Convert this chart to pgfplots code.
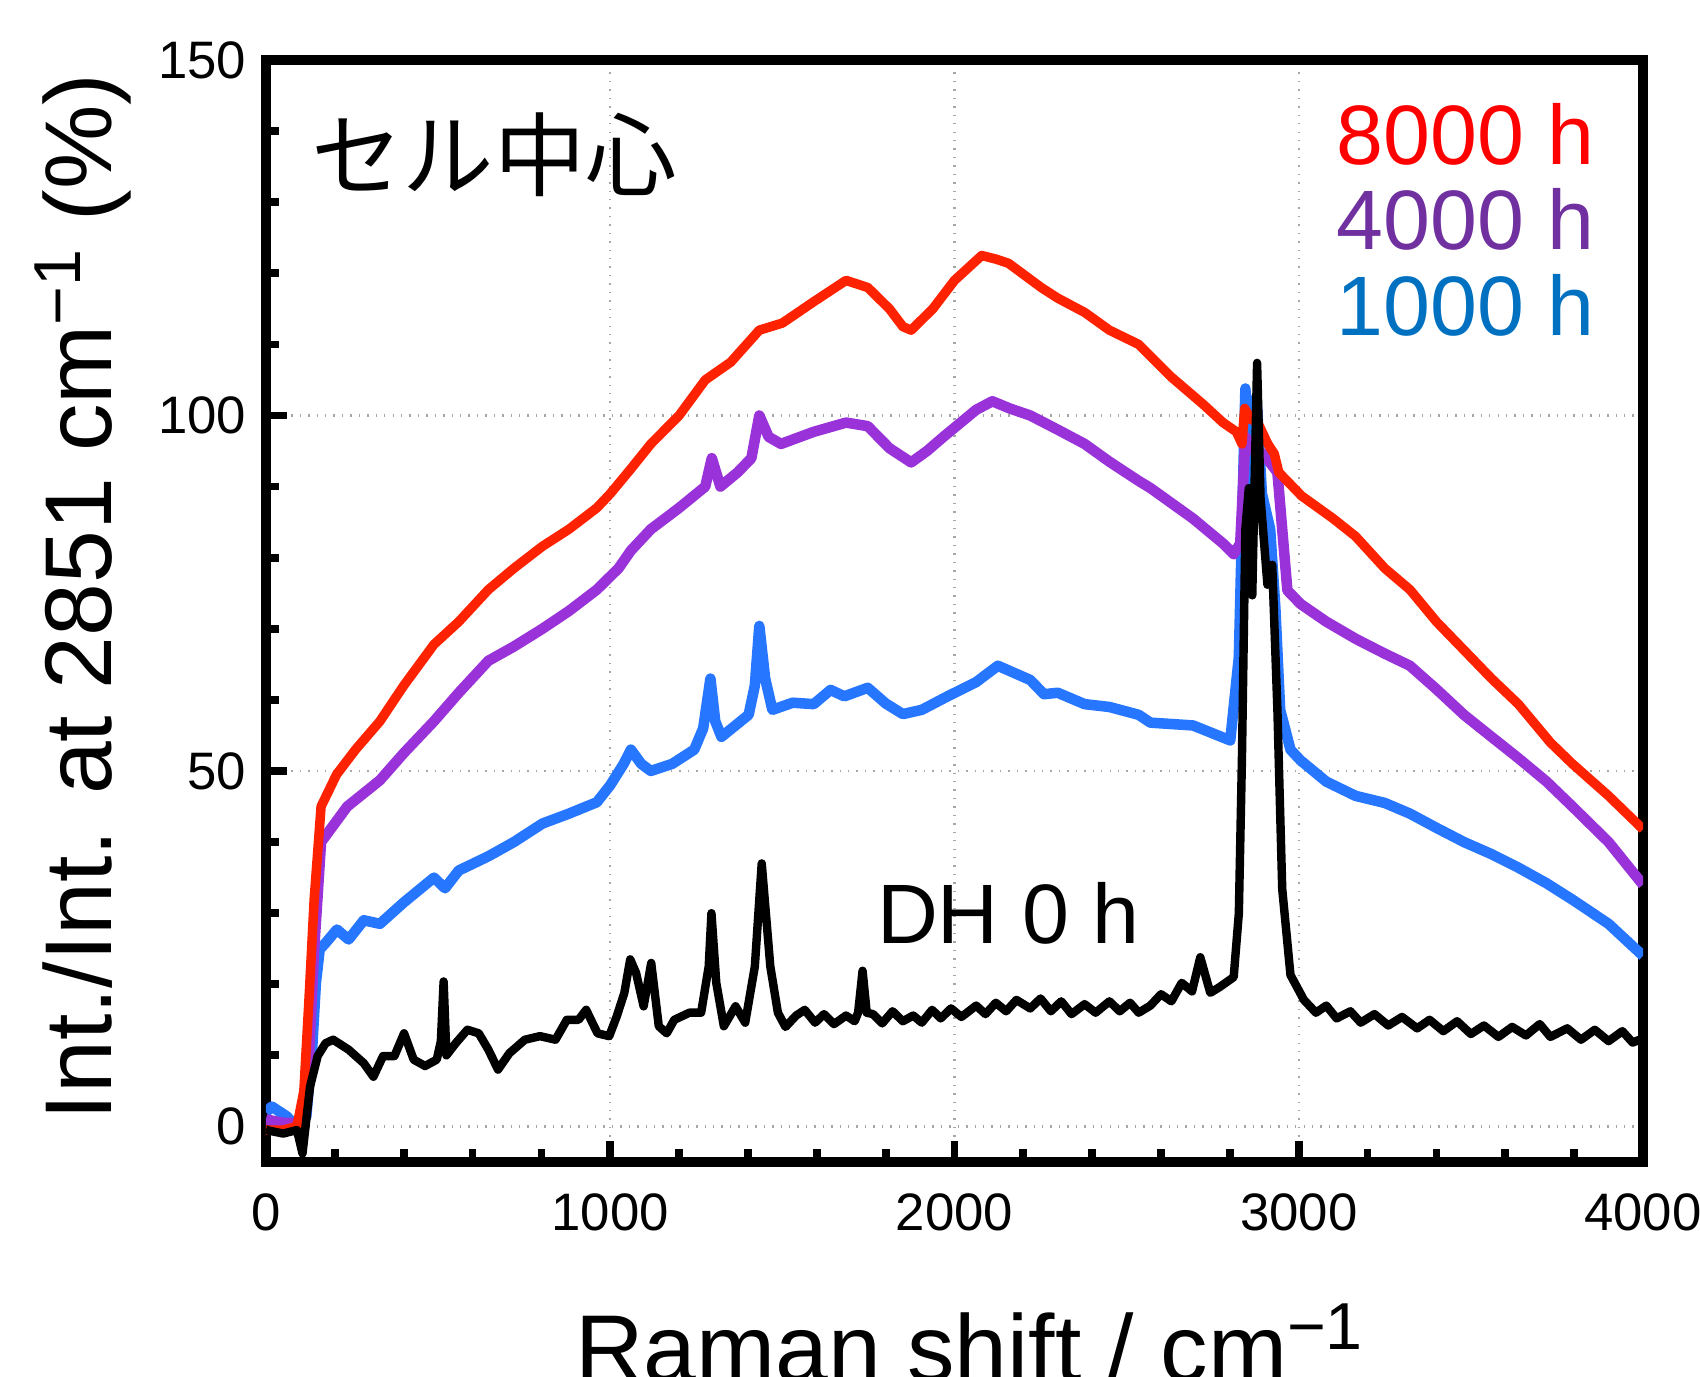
\documentclass[border=0pt]{standalone}
\usepackage{fontspec}
\setmainfont{Liberation Sans}
\newfontfamily\jp{Noto Sans CJK JP}
\usepackage{pgfplots}
\pgfplotsset{compat=1.18}
\usetikzlibrary{calc}

\definecolor{lred}{HTML}{FF2200}
\definecolor{lpurple}{HTML}{9933D9}
\definecolor{lblue}{HTML}{2676FF}
\definecolor{tred}{HTML}{FF0000}
\definecolor{tpurple}{HTML}{7030A0}
\definecolor{tblue}{HTML}{0070C0}

\begin{document}
\begin{tikzpicture}
\begin{axis}[
  width=13.77cm, height=11.02cm, scale only axis,
  xmin=0, xmax=4000, ymin=-5, ymax=150,
  xtick={0,1000,2000,3000,4000}, ytick={0,50,100,150},
  minor x tick num=4, minor y tick num=4,
  scaled x ticks=false,
  /pgf/number format/1000 sep={},
  /pgf/number format/assume math mode=true,
  tick align=inside, xtick pos=left, ytick pos=left,
  major tick length=2.1mm, minor tick length=1.3mm,
  every tick/.style={black, line width=2.2pt},
  axis line style={line width=2.8pt},
  grid=major,
  major grid style={dotted, gray!70, line width=0.6pt},
  ticklabel style={font=\fontsize{15}{15}\selectfont},
  yticklabel style={inner sep=0pt, xshift=-1.9mm},
  xticklabel style={inner sep=0pt, yshift=-3.1mm},
  clip=true,
  every axis plot/.append style={line join=round},
]
\coordinate (SW) at (rel axis cs:0,0);
\coordinate (NE) at (rel axis cs:1,1);

% 1000 h
\addplot[lblue, line width=3pt] coordinates {
(0,2) (17,2.8) (61,1.4) (95,-0.5) (117,1.4) (134,10.8) (145,20.2) (156,24.9)
(173,25.8) (206,27.7) (240,26.3) (284,29) (331,28.5) (400,31.5) (488,35)
(520,33.5) (560,36) (646,38) (720,40) (803,42.6) (880,44) (961,45.6) (1000,48) (1039,51)
(1060,53) (1090,51) (1118,50) (1180,51) (1244,53) (1270,56) (1291,63)
(1305,57) (1323,54.8) (1402,57.9) (1420,62) (1433,70.4) (1450,63) (1471,58.6)
(1530,59.6) (1591,59.4) (1640,61.4) (1680,60.5) (1748,61.7) (1800,59.5)
(1850,58) (1905,58.6) (1980,60.5)
(2063,62.5) (2126,64.8) (2220,62.8) (2260,60.8) (2300,61) (2378,59.4) (2450,59)
(2535,57.9) (2569,56.8) (2693,56.4) (2801,54.3) (2826,66) (2845,103.8)
(2860,87.7) (2877,102.7) (2893,89) (2917,84) (2932,73) (2946,58.6)
(2976,53) (3005,51.5) (3080,48.5) (3165,46.5) (3250,45.5) (3323,44)
(3400,42) (3480,40) (3560,38.3) (3638,36.4) (3720,34.2) (3795,31.9)
(3900,28.5) (4000,24)
};

% 4000 h
\addplot[lpurple, line width=3pt] coordinates {
(0,1) (50,0.5) (100,0.5) (120,5) (140,25) (160,40) (236,45) (331,48.7)
(400,52.5) (488,57) (560,61) (646,65.5) (720,67.5) (803,70) (880,72.5)
(961,75.5) (1024,78.5) (1060,81) (1118,84) (1200,87) (1276,90) (1295,94)
(1320,90) (1370,92) (1410,94) (1433,100) (1460,97) (1496,96) (1591,97.7)
(1685,99) (1748,98.5) (1811,95.4) (1874,93.4) (1920,95) (1968,97)
(2063,100.8) (2110,102) (2160,101) (2220,100) (2300,98) (2378,96)
(2450,93.5) (2535,90.8) (2569,89.8) (2693,85.5) (2780,82) (2811,80.5)
(2830,82) (2845,97) (2870,95) (2897,94.6) (2938,92) (2967,75.4)
(3005,73.5) (3080,71) (3165,68.6) (3250,66.5) (3323,64.8) (3400,61.5)
(3480,57.9) (3560,54.8) (3638,51.8) (3720,48.5) (3795,45) (3900,40)
(4000,34)
};

% 8000 h
\addplot[lred, line width=2.7pt] coordinates {
(0,-0.5) (50,-0.5) (90,0) (110,5) (125,18) (140,32) (160,45) (205,49.5)
(260,53) (331,57) (400,62) (488,67.8) (560,71) (646,75.5) (720,78.5)
(803,81.6) (880,84) (961,87) (1000,89) (1060,92.5) (1118,96) (1200,100)
(1276,105) (1350,107.5) (1433,112) (1500,113) (1591,116) (1685,119)
(1748,118) (1811,115) (1850,112.5) (1874,112) (1937,115) (2000,119)
(2079,122.5) (2120,122) (2157,121.4) (2252,118) (2300,116.5) (2378,114.5)
(2450,112) (2535,110) (2630,105.4) (2724,101.5) (2780,99) (2819,97.7)
(2835,96) (2843,101) (2860,99.5) (2881,99) (2910,96) (2929,94.6)
(2942,92) (3008,88.7) (3100,85.5) (3165,83) (3250,78.5) (3323,75.5)
(3400,71) (3480,67) (3560,63) (3638,59.4) (3731,54) (3795,51)
(3900,46.5) (4000,41.8)
};

% DH 0 h
\addplot[black, line width=2.4pt] coordinates {
(0,-0.5) (50,-1) (90,-0.5) (106,-3.8) (128,5.6) (150,9.9) (173,11.7)
(195,12.2) (240,10.8) (284,8.9) (312,7) (340,9.9) (373,9.9) (401,13.1)
(429,9.4) (462,8.5) (496,9.4) (508,12) (516,20.4) (524,10) (551,11.7)
(585,13.6) (618,13.1) (646,10.8) (674,8) (707,10.3) (752,12.2) (796,12.7)
(841,12.2) (874,15) (908,15) (930,16.4) (963,13.1) (997,12.7) (1019,15.5)
(1041,18.8) (1058,23.5) (1075,21.6) (1097,16.9) (1119,23) (1141,14.1)
(1164,13.1) (1186,15) (1230,16) (1264,16) (1286,22.5) (1294,30) (1308,20.2)
(1330,14.1) (1364,16.9) (1392,14.6) (1420,22.5) (1440,37) (1465,22.5)
(1487,16) (1509,14) (1540,15.6) (1565,16.4) (1595,14.6) (1621,15.8)
(1650,14.4) (1685,15.6) (1710,14.8) (1720,16) (1733,21.9)
(1745,16) (1763,15.8) (1790,14.5) (1820,16.2) (1850,14.8) (1880,15.6)
(1905,14.6) (1935,16.4) (1960,15.2) (1990,16.6) (2020,15.4) (2063,17)
(2090,15.8) (2120,17.4) (2150,16.2) (2180,17.8) (2220,16.6) (2250,18)
(2280,16.2) (2310,17.6) (2340,15.8) (2378,17.2) (2410,16) (2450,17.6)
(2480,16.2) (2510,17.4) (2535,16) (2569,17) (2600,18.6) (2630,17.6)
(2660,20.2) (2690,19) (2714,23.8) (2743,18.8) (2770,19.6) (2811,21) (2826,30)
(2835,51.8) (2845,84) (2855,89.8) (2865,74.7) (2879,107.4) (2889,88.4)
(2909,76.2) (2923,79) (2938,58.6) (2952,33.4) (2976,21.3) (3015,17.8)
(3050,16) (3080,17) (3110,15.2) (3150,16.2) (3180,14.6) (3220,15.8)
(3260,14.2) (3300,15.4) (3344,13.8) (3380,15) (3420,13.4) (3460,14.8)
(3500,13) (3538,14.2) (3580,12.6) (3620,14) (3660,12.8) (3700,14.4)
(3731,12.6) (3780,13.8) (3820,12.2) (3860,13.6) (3900,12) (3940,13.4)
(3970,11.8) (4000,12.4)
};

\node[anchor=west, inner sep=0pt, font=\jp\fontsize{26}{26}\selectfont]
  at (axis cs:130,136.7) {セル中心};
\node[anchor=base east, inner sep=0pt, text=tred, font=\fontsize{24}{24}\selectfont]
  at (axis cs:3862,135.3) {8000 h};
\node[anchor=base east, inner sep=0pt, text=tpurple, font=\fontsize{24}{24}\selectfont]
  at (axis cs:3862,123.3) {4000 h};
\node[anchor=base east, inner sep=0pt, text=tblue, font=\fontsize{24}{24}\selectfont]
  at (axis cs:3862,111.3) {1000 h};
\node[anchor=base west, inner sep=0pt, font=\fontsize{24}{24}\selectfont]
  at (axis cs:1773,25.7) {DH 0 h};
\end{axis}

\path (SW) ++(7.04cm,-2.19cm) node[anchor=base, inner sep=0pt,
  font=\fontsize{27}{27}\selectfont] {Raman shift / cm\textsuperscript{−1}};
\path (SW) ++(-1.54cm,5.65cm) node[rotate=90, anchor=base, inner sep=0pt,
  font=\fontsize{27}{27}\selectfont] {Int./Int. at 2851 cm\textsuperscript{−1} (\%)};

\pgfresetboundingbox
\path[use as bounding box] ($(SW)+(-2.66cm,-2.14cm)$) rectangle ($(NE)+(0.57cm,0.60cm)$);
\end{tikzpicture}
\end{document}
